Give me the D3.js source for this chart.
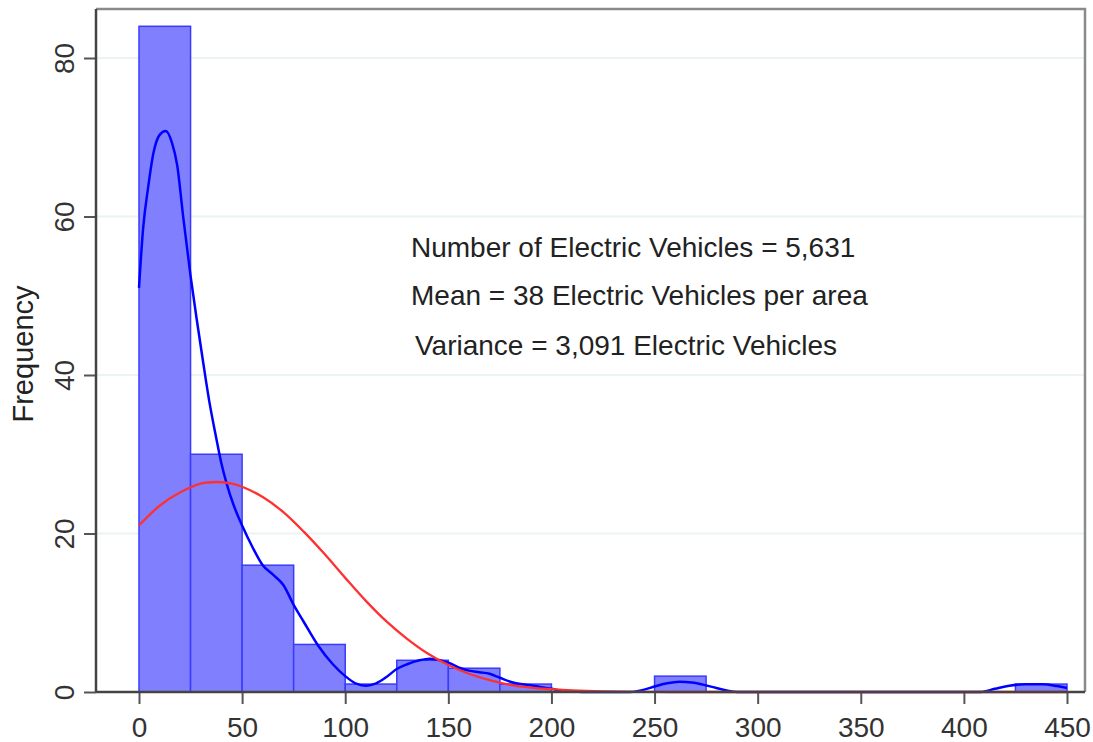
<!DOCTYPE html>
<html><head><meta charset="utf-8">
<script src="https://cdn.jsdelivr.net/npm/d3@7"></script>
<style>body{margin:0;background:#fff;}svg{display:block;font-family:"Liberation Sans",Arial,sans-serif;}</style>
</head><body>
<svg id="chart" width="1093" height="742"></svg>
<script>
// Histogram bins (lower edge) and frequencies
const binStarts = [0,25,50,75,100,125,150,175,200,225,250,275,300,325,350,375,400,425];
const binWidth = 25;
const binCounts = [84,30,16,6,1,4,3,1,0,0,2,0,0,0,0,0,0,1];
// Kernel density curve (blue): [x, frequency]
const kdeX = [0,2,4.5,7,10,13,16,18.5,21.5,25,28,31,34,37.5,40,42.5,46,50,55,60,65,70,75,80,87,94,100,105,110,115,120,125,130,136,141,146,151,156,160,165,170,175,180,185,190,195,200,205,210,215,238,245,250,256,262,268,274,280,285,290,408,415,422,430,438,445,450];
const kdeY = [51,58.5,63.8,68,70.3,70.8,69.3,66.5,59.8,52.5,47,41.8,36.8,32,28.8,26.3,23.5,21,18.3,16,14.8,13.5,11,8.8,5.8,3.5,2,1.1,0.8,1.1,1.9,2.9,3.5,4,4.2,4,3.6,3,2.7,2.5,2.3,1.8,1.3,1.0,0.85,0.6,0.4,0.15,0.05,0,0,0.3,0.7,1.1,1.3,1.2,0.9,0.5,0.2,0,0,0.4,0.8,0.97,0.97,0.75,0.5];
// Normal curve (red)
const normX = [0,10,20,30,38,45,50,60,70,80,90,100,110,120,130,140,150,160,170,180,190,200,210,225,250,275,450];
const normY = [21,23.5,25.2,26.3,26.5,26.3,25.9,24.6,22.7,20.2,17.4,14.4,11.5,8.9,6.7,4.85,3.4,2.3,1.5,0.9,0.55,0.35,0.2,0.08,0.01,0,0];
const xTicks = [0,50,100,150,200,250,300,350,400,450];
const yTicks = [0,20,40,60,80];
const yLabel = "Frequency";
const notes = ["Number of Electric Vehicles = 5,631","Mean = 38 Electric Vehicles per area","Variance = 3,091 Electric Vehicles"];

const svg = d3.select("#chart");
const frame = {left:96, right:1085, top:9, bottom:692};
const x = d3.scaleLinear().domain([0,450]).range([139,1067]);
const y = d3.scaleLinear().domain([0,80]).range([692,58]);

// gridlines
svg.append("g").selectAll("line").data(yTicks.filter(d=>d>0)).join("line")
  .attr("x1",frame.left).attr("x2",frame.right)
  .attr("y1",d=>y(d)).attr("y2",d=>y(d))
  .attr("stroke","#ecf3f3").attr("stroke-width",2);

// bars
const bins = binStarts.map((s,i)=>({x0:s,x1:s+binWidth,n:binCounts[i]})).filter(d=>d.n>0);
svg.append("g").selectAll("rect").data(bins).join("rect")
  .attr("x",d=>x(d.x0)).attr("width",d=>x(d.x1)-x(d.x0))
  .attr("y",d=>y(d.n)).attr("height",d=>y(0)-y(d.n))
  .attr("fill","#8080ff").attr("stroke","#3a3aff").attr("stroke-width",1.5);

// kde
const kdeLine = d3.line().x(d=>x(d[0])).y(d=>y(d[1])).curve(d3.curveMonotoneX);
svg.append("path").datum(kdeX.map((v,i)=>[v,kdeY[i]]))
  .attr("d",kdeLine).attr("fill","none").attr("stroke","#0000ff").attr("stroke-width",2.5)
  .attr("stroke-linejoin","round");
// normal
const normLine = d3.line().x(d=>x(d[0])).y(d=>y(Math.max(0,d[1]))).curve(d3.curveCatmullRom.alpha(0.5));
svg.append("path").datum(normX.map((v,i)=>[v,normY[i]]))
  .attr("d",normLine).attr("fill","none").attr("stroke","#ff3030").attr("stroke-width",2.3);

// frame top/right
svg.append("path")
  .attr("d",`M${frame.left},${frame.top}H${frame.right}V${frame.bottom}`)
  .attr("fill","none").attr("stroke","#8a8a8a").attr("stroke-width",2.5);

// axes
const xAxis = d3.axisBottom(x).tickValues(xTicks).tickSize(12).tickSizeOuter(0).tickPadding(0);
const gx = svg.append("g").attr("transform",`translate(0,${frame.bottom})`).call(xAxis);
gx.select(".domain").remove();
gx.append("line").attr("x1",frame.left).attr("x2",frame.right).attr("stroke","#444").attr("stroke-width",2.5);
gx.selectAll(".tick line").attr("stroke","#555").attr("stroke-width",2);
gx.selectAll(".tick text").attr("y",45).attr("dy",null).attr("font-size",28).attr("fill","#333")
  .attr("font-family","Liberation Sans, Arial, sans-serif");

const yAxis = d3.axisLeft(y).tickValues(yTicks).tickSize(12).tickSizeOuter(0);
const gy = svg.append("g").attr("transform",`translate(${frame.left},0)`).call(yAxis);
gy.select(".domain").remove();
gy.append("line").attr("y1",frame.top).attr("y2",frame.bottom).attr("stroke","#444").attr("stroke-width",2.5);
gy.selectAll(".tick line").attr("stroke","#555").attr("stroke-width",2);
gy.selectAll(".tick text").attr("x",null).attr("dy",null)
  .attr("transform","translate(-22,0) rotate(-90)").attr("text-anchor","middle")
  .attr("font-size",28).attr("fill","#333").attr("font-family","Liberation Sans, Arial, sans-serif");

// y label
svg.append("text").attr("transform","translate(33,354) rotate(-90)")
  .attr("text-anchor","middle").attr("font-size",29).attr("fill","#222").text(yLabel);

// notes
const noteX = [411,411,415], noteY = [257,305,355];
svg.append("g").selectAll("text").data(notes).join("text")
  .attr("x",(d,i)=>noteX[i]).attr("y",(d,i)=>noteY[i])
  .attr("font-size",28).attr("fill","#222").text(d=>d);
</script>
</body></html>
